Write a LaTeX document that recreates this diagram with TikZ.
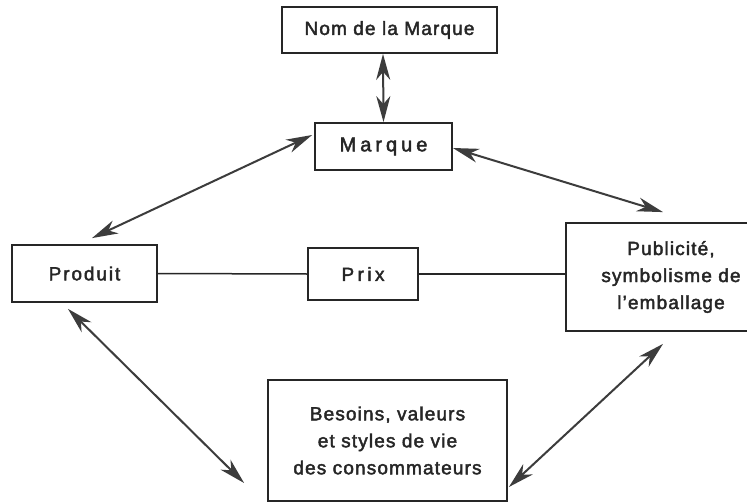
\documentclass[tikz,border=0pt]{standalone}
\usepackage{fontspec}
\setmainfont{Liberation Sans}
\usetikzlibrary{arrows.meta}
\definecolor{ink}{HTML}{262626}
\definecolor{arrowink}{HTML}{3C3C3C}
\newcommand{\labelfont}[2]{\fontsize{#1}{27}\selectfont\addfontfeatures{LetterSpace=#2,FakeBold=2.2}}
\begin{document}
\begin{tikzpicture}[x=1pt,y=-1pt,
  box/.style={draw=ink,line width=1.8pt,fill=white,inner sep=0pt,align=center,text=ink,
    font=\labelfont{19}{6}},
  link/.style={draw=ink,line width=1.5pt},
  twoway/.style={draw=arrowink,line width=2pt,{Stealth[length=26pt,width=14pt,inset=8pt]}-{Stealth[length=26pt,width=14pt,inset=8pt]}}]
  \useasboundingbox (0,0) rectangle (747,503);
  \fill[white] (0,0) rectangle (747,503);
  \clip (0,0) rectangle (747,503);

  % boxes
  \node[box,minimum width=215pt,minimum height=46pt] (nom) at (389.5,30) {Nom de la Marque};
  \node[box,minimum width=137pt,minimum height=47pt,font=\labelfont{20}{20}]
    (marque) at (383.5,146.5) {Marque};
  \node[box,minimum width=145pt,minimum height=57pt,font=\labelfont{19}{10}]
    (produit) at (84.5,273.5) {Produit};
  \node[box,minimum width=110pt,minimum height=52pt,font=\labelfont{19}{18}]
    (prix) at (363,274) {Prix};
  \node[box,minimum width=210pt,minimum height=108pt] (pub) at (671,277)
    {Publicité,\\symbolisme de\\l’emballage};
  \node[box,minimum width=239pt,minimum height=121pt] (besoins) at (387.5,440.5)
    {Besoins, valeurs\\et styles de vie\\des consommateurs};

  % plain links through the price
  \draw[link] (produit.east) -- (prix.west);
  \draw[link] (prix.east) -- (prix.east -| pub.west);

  % two-way arrows
  \draw[twoway] ([xshift=-6.5pt]nom.south) -- (marque.north);
  \draw[twoway] ([xshift=-2pt,yshift=11.5pt]marque.west) -- ([xshift=7.5pt,yshift=6pt]produit.north);
  \draw[twoway] ([yshift=-1.5pt]marque.east) -- ([xshift=-8pt,yshift=10pt]pub.north);
  \draw[twoway] ([xshift=-16.5pt,yshift=-6pt]produit.south) -- ([xshift=-23pt,yshift=-42.5pt]besoins.west);
  \draw[twoway] ([xshift=-8pt,yshift=-12pt]pub.south) -- ([xshift=1pt,yshift=-46.5pt]besoins.east);
\end{tikzpicture}
\end{document}
